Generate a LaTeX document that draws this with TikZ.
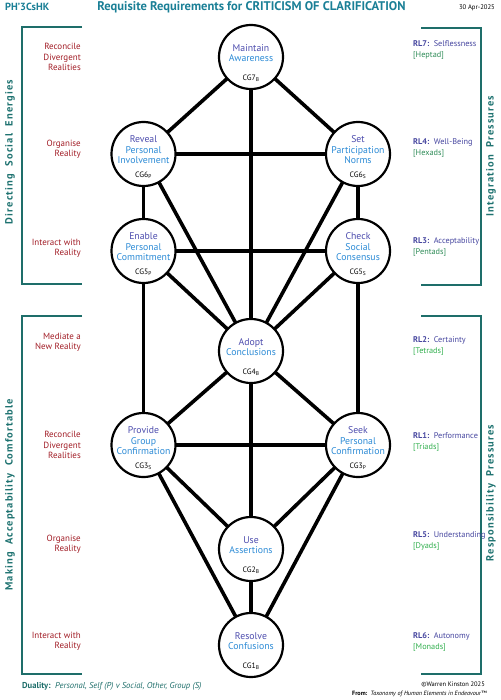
\documentclass[tikz,border=0pt]{standalone}
\usepackage{fontspec}
\setmainfont{PT Sans}
\newfontfamily\spacedfont[LetterSpace=11]{PT Sans}
\usetikzlibrary{backgrounds}
\definecolor{titleteal}{HTML}{1A7F96}
\definecolor{brkteal}{HTML}{1E6E6A}
\definecolor{vteal}{HTML}{1E7270}
\definecolor{dred}{HTML}{A11D26}
\definecolor{purp}{HTML}{4D4DAE}
\definecolor{lblue}{HTML}{2C8BD6}
\definecolor{rlblue}{HTML}{46469F}
\definecolor{dgreen}{HTML}{2E8B57}
\definecolor{bgreen}{HTML}{2FAE4C}
\tikzset{
  cg/.style={circle, draw=black, line width=2.2bp, fill=white, minimum size=64bp, inner sep=0pt},
  cgtext/.style={align=center, font=\fontsize{9.8}{10.6}\selectfont, text=lblue, inner sep=0pt},
  cglab/.style={font=\fontsize{7.8}{8}\selectfont, text=black, inner sep=0pt},
  edge/.style={line width=3.6bp, line cap=butt},
  brk/.style={draw=brkteal, line width=2.2bp},
  redlab/.style={align=right, anchor=east, text=dred, font=\fontsize{9}{10.3}\selectfont, inner sep=0pt},
  rllab/.style={align=left, anchor=west, font=\fontsize{8.3}{10.4}\selectfont, inner sep=0pt},
  vlab/.style={rotate=90, text=vteal, font=\fontsize{10.5}{11}\spacedfont\bfseries, inner sep=0pt},
}
\newcommand{\cgnode}[6]{%
  \node[cg] (#1) at (#2,#3) {};
  \node[cgtext] (#1t) at ([yshift=4bp]#1.center) {#4};
  \node[cglab] (#1l) at ([yshift=-21.5bp]#1.center) {CG#5\textsubscript{#6}};
}
\begin{document}
\begin{tikzpicture}[x=1bp,y=-1bp]
\useasboundingbox (0,0) rectangle (501,700);

% header
\node[anchor=west, text=titleteal, font=\fontsize{10.4}{11}\selectfont\bfseries, inner sep=0pt] (code) at (5,7) {PH'3CsHK};
\node[text=titleteal, font=\fontsize{12.6}{13}\selectfont\bfseries, inner sep=0pt] (title) at (251.5,7) {Requisite Requirements for CRITICISM OF CLARIFICATION};
\node[anchor=east, font=\fontsize{6.7}{7}\selectfont, inner sep=0pt] (date) at (495,8) {30 Apr-2025};

% brackets
\coordinate (lu1) at (82,27); \coordinate (lu2) at (22,27); \coordinate (lu3) at (22,284); \coordinate (lu4) at (82,284);
\draw[brk] (lu1) -- (lu2) -- (lu3) -- (lu4);
\coordinate (ll1) at (82,316); \coordinate (ll2) at (22,316); \coordinate (ll3) at (22,674); \coordinate (ll4) at (82,674);
\draw[brk] (ll1) -- (ll2) -- (ll3) -- (ll4);
\coordinate (ru1) at (421,28); \coordinate (ru2) at (481,28); \coordinate (ru3) at (481,285); \coordinate (ru4) at (421,285);
\draw[brk] (ru1) -- (ru2) -- (ru3) -- (ru4);
\coordinate (rl1) at (421,316); \coordinate (rl2) at (481,316); \coordinate (rl3) at (481,674); \coordinate (rl4) at (421,674);
\draw[brk] (rl1) -- (rl2) -- (rl3) -- (rl4);

\node[vlab] (v1) at (10,152) {Directing\ \ Social\ \ Energies};
\node[vlab] (v2) at (10,495) {Making\ \ Acceptability\ \ Comfortable};
\node[vlab] (v3) at (491,156) {Integration\ \ Pressures};
\node[vlab] (v4) at (491,493) {Responsibility\ \ Pressures};

% left labels
\node[redlab] (r1) at (81,57) {Reconcile\\Divergent\\Realities};
\node[redlab] (r2) at (81,149.5) {Organise\\Reality};
\node[redlab] (r3) at (81,248) {Interact with\\Reality};
\node[redlab] (r4) at (81,342) {Mediate a\\New Reality};
\node[redlab] (r5) at (81,445) {Reconcile\\Divergent\\Realities};
\node[redlab] (r6) at (81,544) {Organise\\Reality};
\node[redlab] (r7) at (81,641.5) {Interact with\\Reality};

% right labels
\node[rllab] (l7) at (413,50) {\textcolor{rlblue}{\textbf{RL7:}\ \ Selflessness}\\\textcolor{dgreen}{[Heptad]}};
\node[rllab] (l4) at (413,148) {\textcolor{rlblue}{\textbf{RL4:}\ \ Well-Being}\\\textcolor{dgreen}{[Hexads]}};
\node[rllab] (l3) at (413,247) {\textcolor{rlblue}{\textbf{RL3:}\ \ Acceptability}\\\textcolor{dgreen}{[Pentads]}};
\node[rllab] (l2) at (413,346) {\textcolor{rlblue}{\textbf{RL2:}\ \ Certainty}\\\textcolor{bgreen}{[Tetrads]}};
\node[rllab] (l1) at (413,442) {\textcolor{rlblue}{\textbf{RL1:}\ \ Performance}\\\textcolor{bgreen}{[Triads]}};
\node[rllab] (l5) at (413,541) {\textcolor{rlblue}{\textbf{RL5:}\ \ Understanding}\\\textcolor{bgreen}{[Dyads]}};
\node[rllab] (l6) at (413,642) {\textcolor{rlblue}{\textbf{RL6:}\ \ Autonomy}\\\textcolor{bgreen}{[Monads]}};

% nodes
\cgnode{cg7}{251}{57}{\textcolor{purp}{Maintain}\\Awareness}{7}{B}
\cgnode{cg6p}{143.5}{154}{\textcolor{purp}{Reveal}\\Personal\\Involvement}{6}{P}
\cgnode{cg6s}{358}{154}{\textcolor{purp}{Set}\\Participation\\Norms}{6}{S}
\cgnode{cg5p}{143.5}{251}{\textcolor{purp}{Enable}\\Personal\\Commitment}{5}{P}
\cgnode{cg5s}{358}{251}{\textcolor{purp}{Check}\\Social\\Consensus}{5}{S}
\cgnode{cg4b}{251}{351}{\textcolor{purp}{Adopt}\\Conclusions}{4}{B}
\cgnode{cg3s}{143.5}{445}{\textcolor{purp}{Provide}\\Group\\Confirmation}{3}{S}
\cgnode{cg3p}{358}{445}{\textcolor{purp}{Seek}\\Personal\\Confirmation}{3}{P}
\cgnode{cg2b}{251}{549}{\textcolor{purp}{Use}\\Assertions}{2}{B}
\cgnode{cg1b}{251}{645}{\textcolor{purp}{Resolve}\\Confusions}{1}{B}

% edges
\begin{scope}[on background layer]
\foreach \a/\b in {cg7/cg6p, cg7/cg6s, cg7/cg4b, cg6p/cg6s, cg6p/cg5p, cg6s/cg5s,
  cg6p/cg4b, cg6s/cg4b, cg5p/cg5s, cg5p/cg4b, cg5s/cg4b, cg5p/cg3s, cg5s/cg3p,
  cg4b/cg3s, cg4b/cg3p, cg4b/cg2b, cg3s/cg3p, cg3s/cg2b, cg3p/cg2b,
  cg3s/cg1b, cg3p/cg1b, cg2b/cg1b}
  \draw[edge] (\a.center) -- (\b.center);
\end{scope}

% footer
\node[anchor=west, text=brkteal, font=\fontsize{8.6}{9}\selectfont, inner sep=0pt] (dual) at (22,686) {\textbf{Duality:}\ \ \textit{Personal, Self (P) v Social, Other, Group (S)}};
\node[anchor=east, font=\fontsize{6.5}{7}\selectfont, inner sep=0pt] (copy) at (485,684) {©Warren Kinston 2025};
\node[anchor=east, font=\fontsize{6.2}{7}\selectfont, inner sep=0pt] (from) at (487,693.5) {\textbf{From:}\ \ \textit{Taxonomy of Human Elements in Endeavour}™};
\end{tikzpicture}
\end{document}
